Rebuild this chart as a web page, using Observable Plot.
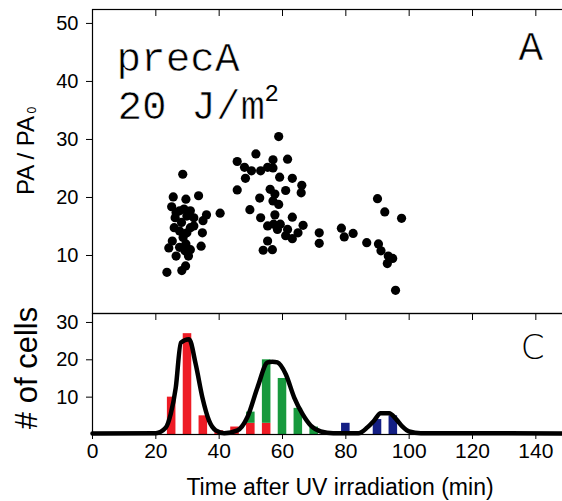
<!DOCTYPE html>
<html><head><meta charset="utf-8">
<script src="https://cdn.jsdelivr.net/npm/d3@7"></script>
<script src="https://cdn.jsdelivr.net/npm/@observablehq/plot@0.6"></script>
<style>
html,body{margin:0;padding:0;background:#fff;overflow:hidden;}
#wrap{position:relative;width:562px;height:501px;overflow:hidden;}
#wrap svg{position:absolute;left:0;}
</style></head><body><div id="wrap"></div>
<script>
// ---- Panel A: scatter (time after UV, PA/PA0) ----
const scatterTime = [
  23.5,28.5,25.5,25.0,29.5,33.5,26.4,26.1,27.5,28.9,30.9,29.8,32.0,34.9,36.0,40.3,27.5,30.9,34.7,29.8,
  25.2,24.1,26.4,27.5,29.5,30.9,30.3,29.4,28.2,34.3,28.6,28.1,25.8,32.0,29.2,
  45.7,51.6,57.0,61.6,58.8,48.0,50.2,53.1,55.3,57.0,48.3,59.1,63.1,45.7,56.1,61.0,66.1,65.9,52.8,57.6,
  57.0,58.8,49.7,57.6,53.1,63.1,55.3,57.2,59.3,66.5,61.6,58.4,64.9,61.0,63.1,55.3,53.9,56.8,71.6,71.6,
  78.6,79.5,82.3,86.6,90.0,92.3,97.6,90.3,91.1,93.4,94.8,93.1,95.7
];
const scatterRatio = [
  7.1,24.0,20.1,18.4,19.7,20.3,17.4,16.5,17.7,18.0,17.7,16.8,16.5,16.0,17.0,17.3,14.2,14.8,13.9,13.9,
  12.5,11.3,9.9,11.4,12.0,11.0,9.9,8.2,7.4,11.6,13.1,15.7,14.8,15.1,10.8,
  26.2,27.5,26.5,26.6,30.5,25.2,24.6,24.6,25.2,25.1,23.3,23.5,23.3,21.3,21.4,21.2,22.1,20.8,19.9,20.6,
  19.4,18.8,17.9,17.0,16.5,16.6,15.1,15.4,15.4,15.2,14.5,14.5,13.9,13.4,12.9,12.5,10.9,11.0,13.9,12.1,
  14.7,13.2,13.8,12.2,19.8,17.5,16.4,12.0,10.8,9.9,9.5,8.6,4.0
];
// ---- Panel C: histogram of cells ----
const earlyTime = [25,30,35,40,45,50,55];
const earlyCount = [10,27,5,1,2,3,3];
const middleTime = [50,55,60,65,70];
const middleCount = [3,17,15,7,2];
const lateTime = [80,90,95];
const lateCount = [3,4,5];
// fitted curve
const fitTime  = [0,20,23.1,24.7,26.3,27.9,30.5,32.6,34.7,36.8,38.9,41.6,45.8,48.9,52.1,55.3,56.8,58.4,61.0,63.7,66.3,68.9,72.1,76.0,84.0,86.8,88.9,91.0,93.7,95.8,97.9,100.0,103.7,150];
const fitCount = [0.3,0.35,1.8,5.5,12.6,24.6,25.5,18.8,9.9,3.7,1.1,0.35,1.1,4.6,12.6,19.3,19.5,19.3,16.2,9.9,5.5,2.4,0.8,0.35,0.35,1.9,3.7,5.7,5.7,4.2,2.1,0.8,0.35,0.3];
// ticks
const xTicks = [0,20,40,60,80,100,120,140];
const yTicksA = [10,20,30,40,50];
const yTicksC = [10,20,30];

const phases = ["early","middle","late"];
const bars = [
  ...earlyTime.map((t,i)=>({t, n: earlyCount[i], phase: "early"})),
  ...middleTime.map((t,i)=>({t, n: middleCount[i], phase: "middle"})),
  ...lateTime.map((t,i)=>({t, n: lateCount[i], phase: "late"}))
];

const sans = "'Liberation Sans', Arial, Helvetica, sans-serif";
const mono = "'Liberation Mono', 'Courier New', monospace";
const common = {fontFamily: sans, background: "transparent", maxWidth: "none", overflow: "visible", color: "#000"};
const halfBar = 1.35;
const thin = {stroke: "#fff", strokeWidth: 0.6, paintOrder: "normal", fill: "#000"};

const chartA = Plot.plot({
  width: 567, height: 314,
  marginTop: 9, marginBottom: 1, marginLeft: 92, marginRight: 0,
  style: common,
  x: {domain: [0, 150]},
  y: {domain: [0, 52.4]},
  marks: [
    Plot.dot(scatterRatio, {x: scatterTime, y: scatterRatio, r: 4.6, fill: "#000", stroke: "none"}),
    Plot.frame({stroke: "#000", strokeWidth: 1.2}),
    Plot.axisY({ticks: yTicksA, tickSize: 6, tickPadding: 8, fontSize: 20, label: null}),
    Plot.axisY({anchor: "right", ticks: yTicksA, tickSize: -6, tickFormat: () => "", label: null}),
    Plot.axisX({anchor: "top", ticks: xTicks.slice(1), tickSize: -6, tickFormat: () => "", label: null}),
    Plot.text(["precA"], {frameAnchor: "top-left", dx: 24, dy: 61, lineAnchor: "bottom", textAnchor: "start", fontFamily: mono, fontSize: 41, ...thin}),
    Plot.text(["20 J/m"], {frameAnchor: "top-left", dx: 25, dy: 109, lineAnchor: "bottom", textAnchor: "start", fontFamily: mono, fontSize: 41, ...thin}),
    Plot.text(["2"], {frameAnchor: "top-left", dx: 172, dy: 91, lineAnchor: "bottom", textAnchor: "start", fontFamily: mono, fontSize: 24, fill: "#000"}),
    Plot.text(["A"], {frameAnchor: "top-left", dx: 426, dy: 50, lineAnchor: "bottom", textAnchor: "start", fontFamily: mono, fontSize: 41, ...thin}),
    Plot.text(["PA / PA"], {frameAnchor: "left", rotate: -90, dx: -59, dy: -6, lineAnchor: "bottom", textAnchor: "middle", fontSize: 24, fill: "#000"}),
    Plot.text(["0"], {frameAnchor: "left", rotate: -90, dx: -57, dy: -48, lineAnchor: "bottom", textAnchor: "start", fontSize: 12, fill: "#000"})
  ]
});
chartA.style.top = "0px";

const chartC = Plot.plot({
  width: 567, height: 201,
  marginTop: 13, marginBottom: 67, marginLeft: 92, marginRight: 0,
  style: common,
  x: {domain: [0, 150]},
  y: {domain: [0, 32.4]},
  color: {domain: phases, range: ["#ee1c25", "#17993d", "#141f84"]},
  marks: [
    Plot.rectY(bars, {x1: d => d.t - halfBar, x2: d => d.t + halfBar, y: "n", fill: "phase"}),
    Plot.line(fitCount, {x: fitTime, y: fitCount, stroke: "#000", strokeWidth: 4.5, curve: "monotone-x", strokeLinejoin: "round"}),
    Plot.frame({stroke: "#000", strokeWidth: 1.2}),
    Plot.axisX({ticks: xTicks, tickSize: 5, tickPadding: 4, fontSize: 21, label: null}),
    Plot.axisX({anchor: "top", ticks: xTicks.slice(1), tickSize: -6, tickFormat: () => "", label: null}),
    Plot.axisY({ticks: yTicksC, tickSize: 6, tickPadding: 8, fontSize: 20, label: null}),
    Plot.axisY({anchor: "right", ticks: yTicksC, tickSize: -6, tickFormat: () => "", label: null}),
    Plot.text(["C"], {frameAnchor: "top-left", dx: 440, dy: 45, lineAnchor: "bottom", textAnchor: "middle", fontFamily: "'DejaVu Sans', sans-serif", fontWeight: 200, fontSize: 34, fill: "#000"}),
    Plot.text(["# of cells"], {frameAnchor: "left", rotate: -90, dx: -55.3, dy: -6, lineAnchor: "bottom", textAnchor: "middle", fontSize: 31, fill: "#000"}),
    Plot.text(["Time after UV irradiation (min)"], {frameAnchor: "bottom", dx: 10, dy: 60.5, lineAnchor: "bottom", textAnchor: "middle", fontSize: 23, fill: "#000"})
  ]
});
chartC.style.top = "300px";

const wrap = document.getElementById("wrap");
wrap.appendChild(chartA);
wrap.appendChild(chartC);
</script>
</body></html>
